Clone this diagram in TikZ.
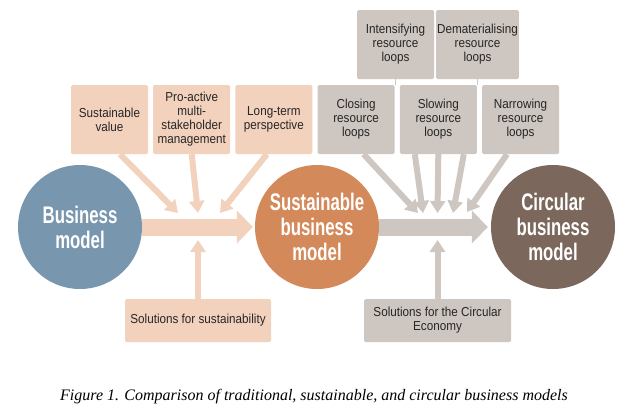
\documentclass[tikz,border=0pt]{standalone}
\usepackage{fontspec}
\setmainfont{Liberation Serif}
\newfontfamily\boxfont[FakeStretch=0.9]{Liberation Sans}
\newfontfamily\circfont[FakeStretch=0.7]{Liberation Sans}
\usetikzlibrary{arrows.meta,backgrounds}
\definecolor{bmblue}{HTML}{7896AE}
\definecolor{sbmorange}{HTML}{D4895A}
\definecolor{cbmbrown}{HTML}{7B675B}
\definecolor{sustfill}{HTML}{F2D1BD}
\definecolor{circfill}{HTML}{CEC6C0}
\begin{document}
\begin{tikzpicture}[x=1pt, y=-1pt, node distance=82.2pt,
  box/.style={rectangle, rounded corners=1.5pt, minimum width=77pt,
              minimum height=69pt, inner sep=1pt, align=center, text=black!85,
              font=\boxfont\fontsize{13}{14}\selectfont},
  sbox/.style={box, fill=sustfill},
  cbox/.style={box, fill=circfill},
  model/.style={circle, minimum size=124pt, inner sep=0pt, align=center,
                text=white, font=\circfont\bfseries\fontsize{24}{25}\selectfont},
  feed/.style={line width=6pt, -{Triangle[width=15pt,length=12pt]}},
  flow/.style={line width=17pt, -{Triangle[width=32pt,length=16pt]}}]
  \useasboundingbox (0,0) rectangle (636,413);

  \node (bm)  [model, fill=bmblue]    at (80,227)  {Business\\model};
  \node (sbm) [model, fill=sbmorange] at (317,227) {Sustainable\\business\\model};
  \node (cbm) [model, fill=cbmbrown]  at (553,227) {Circular\\business\\model};

  \node (sv)  [sbox] at (109.5,119.5) {Sustainable\\value};
  \node (pam) [sbox, right of=sv]  {Pro-active\\multi-\\stakeholder\\management};
  \node (ltp) [sbox, right of=pam] {Long-term\\perspective};
  \node (clo) [cbox, right of=ltp] {Closing\\resource\\loops};
  \node (slo) [cbox, right of=clo] {Slowing\\resource\\loops};
  \node (nar) [cbox, right of=slo] {Narrowing\\resource\\loops};

  \node (ins) [cbox] at (395.5,44.5) {Intensifying\\resource\\loops};
  \node (dem) [cbox, right of=ins, xshift=-0.2pt] {Dematerialising\\resource\\loops};

  \node (sfs) [sbox, minimum width=146pt, minimum height=43pt] at (198,320.5)
              {Solutions for sustainability};
  \node (sce) [cbox, minimum width=147pt, minimum height=43pt] at (437.5,320.5)
              {Solutions for the Circular\\Economy};

  \node (cap) at (314,397) {\itshape\fontsize{16}{18}\selectfont
    Figure 1. Comparison of traditional, sustainable, and circular business models};

  \coordinate (s1) at (178,213);
  \coordinate (s2) at (198,213);
  \coordinate (s3) at (220,213);
  \coordinate (s4) at (198,240);
  \coordinate (c1) at (418,213);
  \coordinate (c2) at (423,213);
  \coordinate (c3) at (437.5,213);
  \coordinate (c4) at (453,213);
  \coordinate (c5) at (467,212);
  \coordinate (c6) at (437.5,240);

  \begin{scope}[on background layer]
    \draw[flow, sustfill] (bm.east) -- ([xshift=-2pt]sbm.west);
    \draw[flow, circfill] (sbm.east) -- ([xshift=-3pt]cbm.west);

    \draw[feed, sustfill] ([xshift=10.5pt]sv.south) -- (s1);
    \draw[feed, sustfill] (pam.south) -- (s2);
    \draw[feed, sustfill] ([xshift=-7pt]ltp.south) -- (s3);
    \draw[feed, sustfill] ([yshift=-1pt]sfs.north) -- (s4);

    \draw[circfill, line width=1.5pt] (ins.south) -- (ins.south |- slo.north);
    \draw[circfill, line width=1.5pt] (dem.south) -- (dem.south |- nar.north);

    \draw[feed, circfill] ([xshift=7.5pt]clo.south) -- (c1);
    \draw[feed, circfill] ([xshift=-23.5pt]slo.south) -- (c2);
    \draw[feed, circfill] (slo.south) -- (c3);
    \draw[feed, circfill] ([xshift=25.5pt]slo.south) -- (c4);
    \draw[feed, circfill] ([xshift=-13.5pt]nar.south) -- (c5);
    \draw[feed, circfill] ([yshift=-1pt]sce.north) -- (c6);
  \end{scope}
\end{tikzpicture}
\end{document}
